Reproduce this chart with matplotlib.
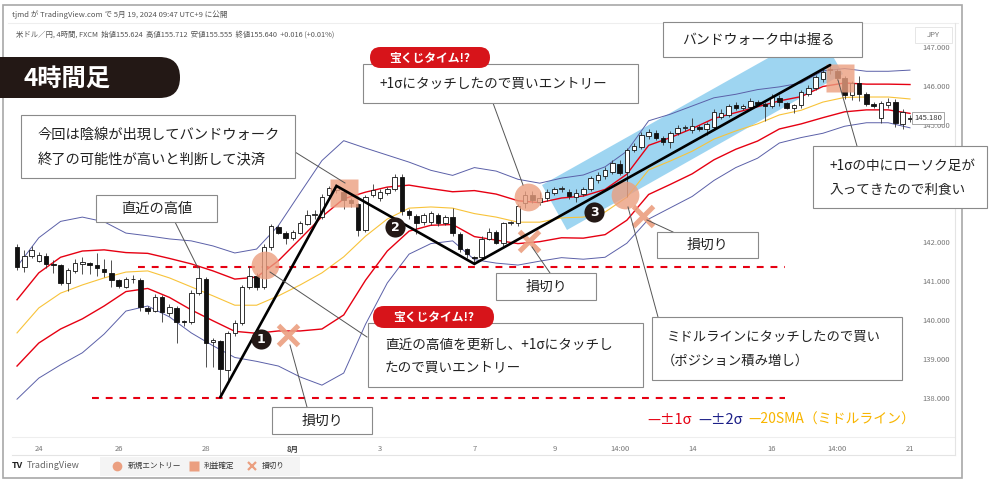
import matplotlib
matplotlib.use('Agg')
import matplotlib.pyplot as plt
import matplotlib.transforms as mtransforms
from matplotlib.patches import Rectangle, FancyBboxPatch, Polygon
from matplotlib.lines import Line2D
from matplotlib.ticker import FormatStrFormatter
import numpy as np

plt.rcParams['font.family'] = ['Noto Sans CJK JP', 'DejaVu Sans']

W, H = 1000, 484

# 4h candles, USD/JPY
opens = [141.88, 141.36, 141.64, 141.52, 141.65, 141.44, 141.41, 140.96, 141.26, 141.44,
         141.46, 141.41, 141.32, 141.21, 141.03, 140.85, 141.05, 141.03, 140.32, 140.24,
         140.59, 140.19, 140.31, 139.96, 139.96, 140.70, 141.05, 139.44, 139.45, 138.72,
         139.67, 139.93, 140.85, 141.13, 140.85, 141.88, 142.39, 142.23, 142.10, 142.24,
         142.46, 142.69, 142.65, 143.21, 143.33, 143.29, 143.08, 142.97, 142.31, 143.21,
         143.12, 143.26, 143.35, 143.67, 142.80, 142.67, 142.52, 142.52, 142.69, 142.50,
         142.63, 142.20, 141.81, 141.60, 141.62, 142.09, 142.26, 141.98, 142.48, 142.48,
         142.99, 143.21, 143.03, 143.12, 143.26, 143.35, 143.29, 143.15, 143.23, 143.35,
         143.59, 143.69, 143.80, 144.00, 143.80, 144.36, 144.43, 144.72, 144.80, 144.68,
         144.57, 144.79, 144.92, 144.87, 144.96, 144.90, 144.96, 145.21, 145.26, 145.51,
         145.43, 145.46, 145.58, 145.55, 145.50, 145.70, 145.56, 145.43, 145.51, 145.80,
         145.95, 146.17, 146.41, 146.39, 146.21, 145.77, 146.08, 145.80, 145.54, 145.17,
         145.52, 145.60, 145.04, 145.15]
highs = [141.95, 141.79, 141.90, 141.74, 141.72, 141.54, 141.44, 141.33, 141.56, 141.62,
         141.49, 141.71, 141.56, 141.54, 141.05, 141.10, 141.15, 141.08, 140.36, 140.68,
         140.64, 140.40, 140.36, 140.00, 140.77, 141.37, 141.11, 139.55, 139.50, 139.72,
         140.00, 140.90, 141.38, 141.20, 141.95, 142.47, 142.44, 142.28, 142.30, 142.53,
         142.82, 142.82, 143.22, 143.45, 143.44, 143.35, 143.12, 143.00, 143.20, 143.50,
         143.35, 143.42, 143.74, 143.74, 142.85, 142.72, 142.75, 142.80, 142.75, 142.70,
         142.87, 142.25, 141.85, 141.65, 142.15, 142.35, 142.30, 142.52, 142.55, 142.98,
         143.30, 143.30, 143.29, 143.35, 143.42, 143.45, 143.35, 143.35, 143.42, 143.70,
         143.80, 143.92, 144.10, 144.10, 144.40, 144.55, 144.82, 144.90, 144.88, 144.72,
         144.85, 145.00, 145.00, 145.18, 145.00, 145.08, 145.40, 145.40, 145.55, 145.58,
         145.55, 145.70, 145.65, 145.60, 145.80, 145.76, 145.60, 145.55, 145.90, 146.02,
         146.28, 146.45, 146.54, 146.45, 146.25, 146.12, 146.25, 145.85, 145.58, 145.62,
         145.70, 145.68, 145.40, 145.25]
lows = [141.28, 141.23, 141.59, 141.49, 141.33, 141.20, 140.90, 140.75, 141.20, 141.18,
        141.18, 141.13, 141.10, 140.85, 140.82, 140.82, 140.95, 140.23, 140.15, 140.20,
        139.96, 140.10, 139.41, 139.85, 139.90, 140.65, 138.80, 138.80, 138.02, 138.45,
        139.60, 139.88, 140.80, 140.78, 140.80, 141.80, 142.20, 141.95, 142.05, 142.20,
        142.43, 142.60, 142.60, 143.10, 143.25, 142.85, 142.90, 142.15, 142.25, 143.15,
        143.05, 143.20, 143.30, 142.70, 142.60, 142.20, 142.45, 142.45, 142.40, 142.45,
        142.15, 141.75, 141.60, 141.44, 141.55, 142.05, 141.95, 141.90, 142.45, 142.40,
        142.87, 143.00, 142.95, 143.05, 143.20, 143.28, 143.10, 143.03, 143.18, 143.30,
        143.52, 143.62, 143.75, 143.72, 143.16, 144.30, 144.38, 144.65, 144.62, 144.50,
        144.40, 144.75, 144.85, 144.80, 144.85, 144.75, 144.90, 145.15, 145.20, 145.38,
        145.38, 145.40, 145.50, 145.11, 145.45, 145.50, 145.40, 145.30, 145.45, 145.75,
        145.90, 146.10, 146.30, 146.15, 145.66, 145.65, 145.62, 145.48, 145.45, 145.05,
        145.45, 144.95, 144.89, 145.08]
closes = [141.37, 141.64, 141.79, 141.67, 141.44, 141.42, 140.96, 141.28, 141.46, 141.49,
          141.41, 141.33, 141.24, 141.03, 140.87, 141.06, 141.04, 140.33, 140.24, 140.60,
          140.21, 140.34, 139.96, 139.95, 140.70, 141.08, 139.42, 139.48, 138.74, 139.67,
          139.93, 140.85, 141.13, 140.85, 141.88, 142.41, 142.24, 142.10, 142.26, 142.49,
          142.69, 142.70, 143.16, 143.38, 143.41, 143.08, 142.99, 142.31, 143.16, 143.33,
          143.29, 143.36, 143.67, 142.80, 142.69, 142.50, 142.69, 142.74, 142.48, 142.65,
          142.22, 141.81, 141.69, 141.58, 142.09, 142.26, 141.98, 142.48, 142.49, 142.92,
          143.21, 143.08, 143.12, 143.29, 143.35, 143.36, 143.18, 143.26, 143.35, 143.63,
          143.72, 143.85, 144.03, 143.78, 144.36, 144.46, 144.74, 144.83, 144.68, 144.57,
          144.79, 144.92, 144.93, 144.97, 144.90, 145.02, 145.34, 145.30, 145.49, 145.43,
          145.49, 145.63, 145.55, 145.50, 145.73, 145.58, 145.43, 145.51, 145.84, 145.95,
          146.23, 146.36, 146.43, 146.22, 145.77, 146.08, 145.80, 145.54, 145.49, 145.56,
          145.60, 145.05, 145.34, 145.18]

# bollinger band (20SMA and sigma) read every 3 candles
band_idx = list(range(0, 124, 3))
sma20 = [139.67, 140.31, 140.69, 140.90, 141.08, 141.23, 141.26, 141.08, 140.85, 140.62,
         140.38, 140.38, 140.62, 140.90, 141.21, 141.62, 142.15, 142.59, 142.87, 142.90,
         142.87, 142.73, 142.64, 142.51, 142.51, 142.62, 142.64, 142.77, 143.15, 143.85,
         144.08, 144.33, 144.64, 144.85, 145.03, 145.26, 145.38, 145.59, 145.71, 145.72,
         145.72, 145.67]
sigma = [0.85, 0.90, 0.92, 0.87, 0.72, 0.50, 0.45, 0.50, 0.59, 0.64,
         0.67, 0.72, 0.90, 1.18, 1.44, 1.49, 1.13, 0.82, 0.59, 0.47,
         0.42, 0.59, 0.59, 0.55, 0.50, 0.51, 0.54, 0.58, 0.59, 0.63,
         0.60, 0.58, 0.53, 0.47, 0.44, 0.36, 0.35, 0.40, 0.37, 0.33,
         0.33, 0.37]

tick_pos = [3, 14, 26, 38, 50, 63, 74, 83, 93, 104, 113, 123]
tick_labels = ['24', '26', '28', '8月', '3', '7', '9', '14:00', '14', '16', '14:00', '21']
# 143 / 144 sit behind a callout in the original
price_ticks = [138, 139, 140, 141, 142, 145, 146, 147]
last_price = 145.18

recent_high = 141.36
support = 138.00

# annotation anchors (candle index, price)
entries = [(34.2, 141.41), (70.4, 143.15), (83.7, 143.21)]
exits = [(45.0, 143.27), (113.3, 146.22)]
stops = [(37.3, 139.61), (70.5, 142.03), (86.2, 142.67)]
badges = [(33.6, 139.51, '1'), (52.1, 142.38, '2'), (79.5, 142.77, '3')]
swing = [(28, 'low'), (44, 'high'), (63, 'low'), (112, 'high')]

RED = '#e60012'
NAVY = '#1d2088'
ORANGE = '#f8b500'
SALMON = '#eb9f80'
BLUEBAND = '#5b60a8'

fig = plt.figure(figsize=(W / 100, H / 100), dpi=100)
# pixel coords, y from top
T = mtransforms.Affine2D().scale(1 / 100, -1 / 100).translate(0, H / 100) + fig.dpi_scale_trans

ax = fig.add_axes([12 / W, 1 - 437 / H, (914 - 12) / W, (437 - 28) / H])
ax.set_xlim(-0.69, 123.55)
ax.set_ylim(137.0, 147.49)
for sp in ax.spines.values():
    sp.set_visible(False)

# band-walk highlight
ax.add_patch(Polygon([(542, 185), (818, 30), (843, 74), (567, 230)], closed=True,
                     transform=T, fc='#94d1f0', ec='none', alpha=0.9, zorder=1))

# bands
m = np.array(sma20)
s = np.array(sigma)
ax.plot(band_idx, m + 2 * s, color=BLUEBAND, lw=0.7, zorder=2)
ax.plot(band_idx, m - 2 * s, color=BLUEBAND, lw=0.7, zorder=2)
ax.plot(band_idx, m + s, color=RED, lw=1.0, zorder=2)
ax.plot(band_idx, m - s, color=RED, lw=1.0, zorder=2)
ax.plot(band_idx, m, color='#f8c33a', lw=0.8, zorder=2)

# dashed levels
ax.hlines(recent_high, 16.7, 105.8, colors=RED, linestyles=(0, (3.3, 3.3)), lw=1.5, zorder=2)
ax.hlines(support, 10.3, 105.8, colors=RED, linestyles=(0, (3.3, 3.3)), lw=1.5, zorder=2)

# candles
idx = np.arange(len(closes))
o = np.array(opens)
c = np.array(closes)
up = c >= o
ax.vlines(idx, lows, highs, color='#333333', lw=0.6, zorder=3)
ax.bar(idx, np.maximum(np.abs(c - o), 0.025), bottom=np.minimum(o, c), width=0.62,
       color=np.where(up, 'white', '#111111'), edgecolor='#111111', linewidth=0.6, zorder=4)

# trend lines through swing points
sx = [i for i, _ in swing]
sy = [lows[i] if k == 'low' else highs[i] for i, k in swing]
ax.plot(sx, sy, color='black', lw=1.9, zorder=6, solid_capstyle='round', solid_joinstyle='miter')

# markers
for x, y in entries:
    ax.plot(x, y, 'o', ms=20, color=SALMON, alpha=0.8, mec='none', zorder=5)
for x, y in exits:
    ax.plot(x, y, 's', ms=19.5, color=SALMON, alpha=0.8, mec='none', zorder=5)
for x, y in stops:
    ax.plot(x, y, 'x', ms=15, mew=3.6, color=SALMON, alpha=0.9, zorder=5)
for x, y, n in badges:
    ax.plot(x, y, 'o', ms=14.5, color='#231815', mec='none', zorder=7)
    ax.text(x, y, n, color='white', fontsize=9, fontweight='bold', ha='center', va='center',
            zorder=8, family='DejaVu Sans')

# axes ticks
ax.yaxis.tick_right()
ax.set_yticks(price_ticks)
ax.yaxis.set_major_formatter(FormatStrFormatter('%.3f'))
ax.set_xticks(tick_pos, tick_labels)
ax.tick_params(axis='both', length=0, labelsize=5.5, labelcolor='#777777')
ax.tick_params(axis='y', pad=6)
ax.tick_params(axis='x', pad=6)
for lab in ax.get_xticklabels():
    if lab.get_text() == '8月':
        lab.set_fontweight('bold')
        lab.set_color('#444444')
ax.text(1.0, last_price, f'{last_price:.3f}', transform=ax.get_yaxis_transform(),
        fontsize=5.5, color='#333333', ha='left', va='center', zorder=9,
        bbox=dict(boxstyle='square,pad=0.25', fc='white', ec='#999999', lw=0.6))


def prect(x0, y0, x1, y1, fc='white', ec='#8a8a8a', lw=0.8, z=5):
    fig.patches.append(Rectangle((x0, y0), x1 - x0, y1 - y0, transform=T, fc=fc, ec=ec,
                                 lw=lw, zorder=z))


def ptext(x, y, s, size=10, color='#222222', ha='left', weight='normal', z=6):
    fig.text(x, y, s, transform=T, fontsize=size, color=color, ha=ha, va='center',
             fontweight=weight, zorder=z)


def pline(x0, y0, x1, y1, color='#555555', lw=0.7):
    fig.lines.append(Line2D([x0, x1], [y0, y1], transform=T, color=color, lw=lw, zorder=4.5))


def pill(x0, y0, x1, y1, fc, text, size, tx=None, weight='bold'):
    h = y1 - y0
    fig.patches.append(FancyBboxPatch((x0, y0), x1 - x0, h, transform=T,
                                      boxstyle=f'round,pad=0,rounding_size={h / 2}',
                                      fc=fc, ec='none', zorder=7))
    if tx is None:
        tx = (x0 + x1) / 2
    fig.text(tx, (y0 + y1) / 2 + 1, text, transform=T, fontsize=size, color='white',
             ha='center', va='center', fontweight=weight, zorder=8)


# frame and chrome
prect(3, 5, 962, 478, fc='none', ec='#a8a8a8', lw=1.2, z=1)
fig.lines.append(Line2D([8, 958], [23, 23], transform=T, color='#eeeeee', lw=0.8, zorder=1))
fig.lines.append(Line2D([12, 955], [437, 437], transform=T, color='#eeeeee', lw=0.8, zorder=1))
fig.lines.append(Line2D([12, 955], [455, 455], transform=T, color='#e4e4e4', lw=0.8, zorder=1))
fig.lines.append(Line2D([955, 955], [23, 455], transform=T, color='#e4e4e4', lw=0.8, zorder=1))
prect(915, 27, 952, 43, fc='white', ec='#e2e2e2', lw=0.6, z=2)
ptext(933.5, 35, 'JPY', size=5.5, color='#777777', ha='center')
ptext(12, 15, 'tjmd が TradingView.com で 5月 19, 2024 09:47 UTC+9 に公開', size=5.5, color='#555555')
ptext(16, 35, '米ドル／円, 4時間, FXCM  始値155.624  高値155.712  安値155.555  終値155.640  +0.016 (+0.01%)',
      size=5.3, color='#555555')

# title pill
pill(-30, 57, 180, 98, '#231815', '4時間足', 17.5, tx=67)

# pointer lines
pline(295, 152, 345, 183)
pline(175, 222, 198, 268)
pline(493, 103, 523, 185)
pline(838, 80, 857, 146)
pline(673, 232, 647, 220)
pline(550, 273, 532, 247)
pline(367, 337, 270, 272)
pline(307, 407, 290, 345)
pline(658, 317, 628, 207)

# callout boxes
prect(21, 115, 295, 178)
ptext(38, 135, '今回は陰線が出現してバンドウォーク', size=10.3)
ptext(38, 160, '終了の可能性が高いと判断して決済', size=10.3)

prect(96, 195, 217, 222)
ptext(156.5, 209, '直近の高値', size=10.3, ha='center')

prect(363, 64, 638, 103)
ptext(380, 84, '+1σにタッチしたので買いエントリー', size=9.8)
pill(370, 47, 490, 68, '#d7141a', '宝くじタイム!?', 8.5)

prect(663, 22, 862, 57)
ptext(682, 40, 'バンドウォーク中は握る', size=10)

prect(813, 146, 987, 208)
ptext(830, 166, '+1σの中にローソク足が', size=9.8)
ptext(830, 190, '入ってきたので利食い', size=9.8)

prect(657, 232, 758, 258)
ptext(707.5, 245, '損切り', size=10, ha='center')

prect(496, 273, 596, 300)
ptext(546, 287, '損切り', size=10, ha='center')

prect(272, 407, 372, 434)
ptext(322, 421, '損切り', size=10, ha='center')

prect(368, 323, 643, 387)
ptext(385, 345, '直近の高値を更新し、+1σにタッチし', size=9.8)
ptext(385, 368, 'たので買いエントリー', size=9.8)
pill(373, 306, 494, 328, '#d7141a', '宝くじタイム!?', 8.5)

prect(652, 317, 902, 380)
ptext(667, 337, 'ミドルラインにタッチしたので買い', size=9.6)
ptext(662, 361, '（ポジション積み増し）', size=9.6)

# band legend
ptext(647, 420, '—±1σ', size=10.5, color=RED)
ptext(698, 420, '—±2σ', size=10.5, color=NAVY)
ptext(748, 420, '—20SMA（ミドルライン）', size=10, color=ORANGE)

# footer
ptext(12, 466, 'TV', size=6.5, color='#222222', weight='bold')
ptext(27, 466, 'TradingView', size=6.5, color='#666666')
prect(100, 457, 300, 476, fc='#f4f4f4', ec='none', z=2)
fig.lines.append(Line2D([117], [466], transform=T, marker='o', ms=7, color=SALMON, mec='none', zorder=3))
ptext(128, 466, '新規エントリー', size=5.5, color='#333333', z=3)
fig.lines.append(Line2D([194], [466], transform=T, marker='s', ms=7, color=SALMON, mec='none', zorder=3))
ptext(204, 466, '利益確定', size=5.5, color='#333333', z=3)
fig.lines.append(Line2D([252], [466], transform=T, marker='x', ms=6, mew=1.6, color=SALMON, zorder=3))
ptext(262, 466, '損切り', size=5.5, color='#333333', z=3)

fig.savefig('out.png', dpi=100)
